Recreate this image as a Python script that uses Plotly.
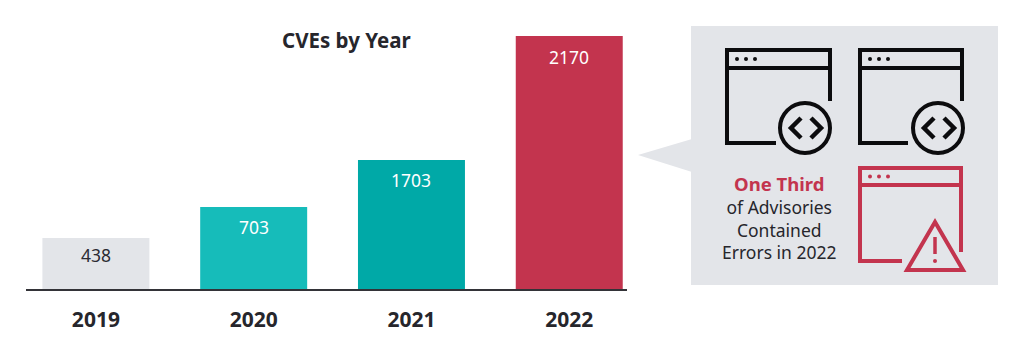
import plotly.graph_objects as go

W, H = 1024, 352
years = ["2019", "2020", "2021", "2022"]
# Printed labels. The reference's 2021 bar is not drawn to scale with its label,
# so the drawn heights are read from the picture separately.
cve_labels = [438, 703, 1703, 2170]
bar_heights = [438, 703, 1106, 2170]
bar_colors = ["#E3E5E9", "#16BCBA", "#00A9A7", "#C3344E"]
label_colors = ["#2b2b33", "#ffffff", "#ffffff", "#ffffff"]
label_drops = [17, 20, 20, 21]

FONT = "Noto Sans"
DARK = "#26262c"
BLACK = "#0c0c0e"
RED = "#C3344E"
PANEL = "#E3E5E9"


def X(p):
    return p / W


def Y(p):
    return 1 - p / H


shapes = []


def rect(x0, y0, x1, y1, fill):
    shapes.append(dict(type="rect", xref="paper", yref="paper", x0=X(x0), x1=X(x1),
                       y0=Y(y0), y1=Y(y1), fillcolor=fill, line_width=0, layer="below"))


def path(points, color, width=4, fill=None, close=False):
    d = "M " + " L ".join(f"{X(a):.5f},{Y(b):.5f}" for a, b in points) + (" Z" if close else "")
    shapes.append(dict(type="path", xref="paper", yref="paper", path=d,
                       line=dict(color=color, width=width if width else 0),
                       fillcolor=fill if fill else "rgba(0,0,0,0)", layer="above"))


def circle(cx, cy, r, color, width=0, fill=None):
    shapes.append(dict(type="circle", xref="paper", yref="paper",
                       x0=X(cx - r), x1=X(cx + r), y0=Y(cy - r), y1=Y(cy + r),
                       line=dict(color=color, width=width),
                       fillcolor=fill if fill else "rgba(0,0,0,0)", layer="above"))


def window(left, right, top, bottom, header, right_end, bottom_end, color):
    path([(bottom_end, bottom), (left, bottom), (left, top), (right, top), (right, right_end)], color)
    path([(left, header), (right, header)], color)
    dot_y = (top + header) / 2
    for dx in (10, 19, 28):
        circle(left + dx, dot_y, 2, color, fill=color)


def code_badge(cx, cy):
    circle(cx, cy, 25, BLACK, width=4)
    path([(cx - 4, cy - 10), (cx - 14, cy), (cx - 4, cy + 10)], BLACK, width=4.5)
    path([(cx + 6, cy - 10), (cx + 16, cy), (cx + 6, cy + 10)], BLACK, width=4.5)


# Panel and callout
rect(691, 26, 998, 285, PANEL)
path([(638, 155), (692, 139), (692, 172)], PANEL, width=0, fill=PANEL, close=True)

# Icons
window(727, 830, 50, 143, 68, 101, 776, BLACK)
code_badge(805, 128)
window(860, 962, 50, 143, 68, 101, 908, BLACK)
code_badge(938, 128)
window(860, 961, 168, 261, 185, 252, 902, RED)
path([(935, 222), (907, 270), (963, 270)], RED, fill=PANEL, close=True)
path([(935, 237), (935, 254)], RED, width=3.5)
circle(935, 261, 2, RED, fill=RED)

fig = go.Figure(go.Bar(x=years, y=bar_heights, marker=dict(color=bar_colors, line_width=0),
                       width=0.678, hoverinfo="skip"))

annotations = [
    dict(x=i, y=h, xref="x", yref="y", text=str(v), yshift=-d, showarrow=False,
         xanchor="center", yanchor="middle",
         font=dict(family=FONT, size=17.5, color=c))
    for i, (h, v, c, d) in enumerate(zip(bar_heights, cve_labels, label_colors, label_drops))
]
annotations.append(dict(x=X(346), y=Y(40), xref="paper", yref="paper", text="<b>CVEs by Year</b>",
                        showarrow=False, xanchor="center", yanchor="middle",
                        font=dict(family=FONT, size=20.5, color=DARK)))
callout = (f'<span style="color:{RED};font-size:18.5px"><b>One Third</b></span><br>'
           "of Advisories<br>Contained<br>Errors in 2022")
annotations.append(dict(x=X(779), y=Y(217.5), xref="paper", yref="paper", text=callout,
                        showarrow=False, xanchor="center", yanchor="middle", align="center",
                        font=dict(family=FONT, size=17.5, color=DARK)))

fig.update_layout(
    width=W, height=H, margin=dict(l=0, r=0, t=0, b=0),
    paper_bgcolor="white", plot_bgcolor="rgba(0,0,0,0)", showlegend=False,
    shapes=shapes, annotations=annotations,
    xaxis=dict(domain=[X(26), X(627)], type="category", range=[-0.443, 3.366],
               showgrid=False, showline=True, linecolor="#333338", linewidth=2,
               ticks="outside", ticklen=11, tickcolor="rgba(0,0,0,0)",
               tickfont=dict(family=FONT, size=21, color=DARK, weight="bold")),
    yaxis=dict(domain=[Y(289), 1], range=[0, 2478], visible=False),
)
fig.write_html("out.html", config=dict(displayModeBar=False),
               post_script="document.body.style.margin='0';document.documentElement.style.overflow='hidden';")
